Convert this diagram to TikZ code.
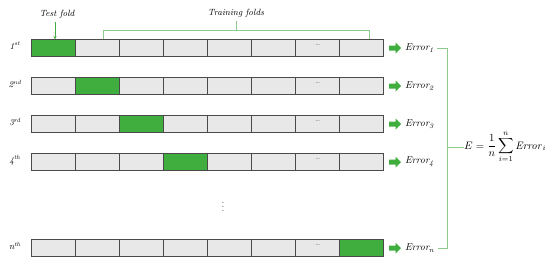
\documentclass[tikz,border=0pt]{standalone}
\usetikzlibrary{arrows.meta}
\definecolor{foldgreen}{HTML}{3FAE3F}
\definecolor{cellgray}{HTML}{E8E8E8}
\definecolor{cellline}{HTML}{4A4A4A}
\definecolor{brack}{HTML}{8CCB8C}
\begin{document}
\begin{tikzpicture}[x=1pt,y=-1pt,
  cell/.style={draw=cellline, line width=0.8pt, minimum width=44.1pt, minimum height=17.5pt, inner sep=0pt, outer sep=0pt},
  lbl/.style={font=\itshape, inner sep=0pt},
  brackline/.style={draw=brack, line width=0.8pt},
  blockarrow/.style={fill=foldgreen}]
\useasboundingbox (0,0) rectangle (550,268);
\foreach \r/\y/\t/\lab/\sub in {1/48/1/1\textsuperscript{st}/1, 2/86/2/2\textsuperscript{nd}/2, 3/124/3/3\textsuperscript{rd}/3, 4/162/4/4\textsuperscript{th}/4, n/248/8/n\textsuperscript{th}/n}{
  \foreach \c in {1,...,8}{
    \ifnum\c=\t\relax\def\fc{foldgreen}\else\def\fc{cellgray}\fi
    \node[cell, fill=\fc] (r\r c\c) at ({31+(\c-0.5)*44.1},\y) {};
  }
  \node[font=\scriptsize, inner sep=0pt, text=black!75] (dots\r) at ([yshift=2.5pt]r\r c7.center) {\dots};
  \node[lbl, font=\itshape\small] (lab\r) at (15,\y-2) {\lab};
  \coordinate (ar\r) at (389,\y);
  \fill[blockarrow] (ar\r) ++(0,-2.5) -- ++(6.5,0) -- ++(0,-3) -- ++(5.5,5.5) -- ++(-5.5,5.5) -- ++(0,-3) -- ++(-6.5,0) -- cycle;
  \node[lbl, anchor=west] (err\r) at (405,\y) {Error\textsubscript{\sub}};
}
% vertical dots
\node[inner sep=0pt, text=black!70] (vdots) at (223,204) {$\vdots$};
% test fold
\node[lbl, font=\itshape\small] (testfold) at (57,14) {Test fold};
\coordinate (tfa) at (55,22);
\draw[draw=foldgreen, line width=0.7pt, -{Stealth[length=3pt,width=3pt]}] (tfa) -- (r1c1.north -| tfa);
% training folds bracket
\node[lbl, font=\itshape\small] (trainfold) at (236,13) {Training folds};
\coordinate (tl) at (103,30);
\coordinate (tr) at (369,30);
\coordinate (tm) at (236,30);
\draw[brackline] (r1c2.north -| tl) -- (tl) -- (tr) -- (r1c8.north -| tr);
\draw[brackline] (tm) -- (trainfold.south |- 0,21);
% right bracket
\coordinate (bt) at (447,48);
\coordinate (bb) at (447,248);
\coordinate (bm) at (447,147);
\draw[brackline] ([xshift=3pt]err1.east |- bt) -- (bt) -- (bb) -- ([xshift=3pt]errn.east |- bb);
\node[anchor=west, inner sep=0pt, scale=1.08] (formula) at (464,147) {$\displaystyle E=\frac{1}{n}\sum_{i=1}^{n}\mathit{Error}_i$};
\draw[brackline] (bm) -- (formula.west);
\end{tikzpicture}
\end{document}
